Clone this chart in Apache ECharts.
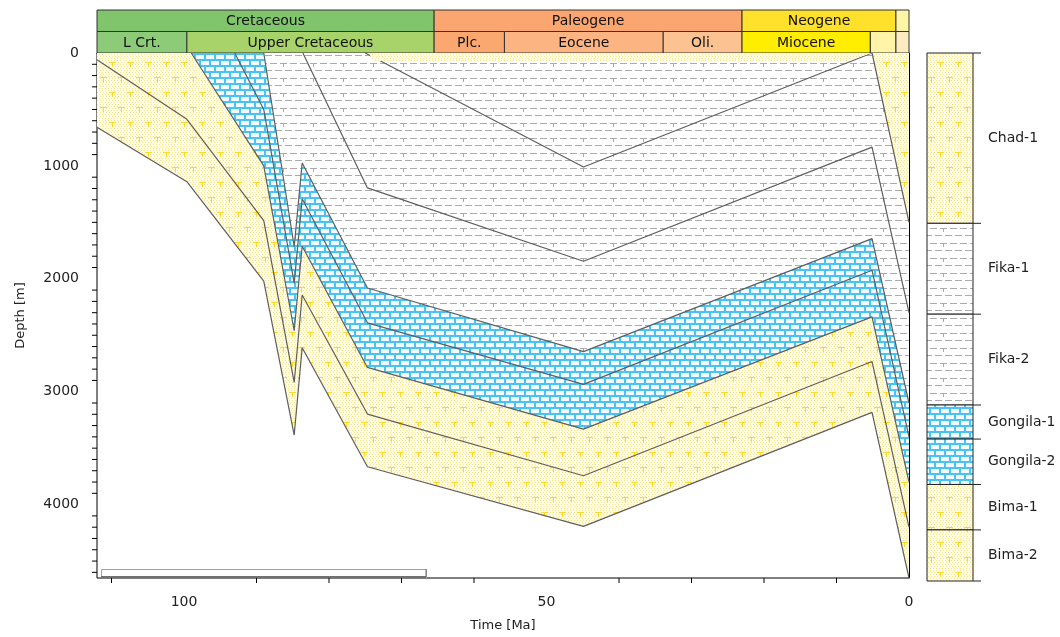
<!DOCTYPE html>
<html><head><meta charset="utf-8">
<script src="https://cdn.jsdelivr.net/npm/echarts@6/dist/echarts.min.js"></script>
<style>html,body{margin:0;padding:0;background:#fff}#c{width:1060px;height:637px}</style>
</head><body><div id="c"></div>
<script>
// ---------- DATA ----------
const AGE_MAX = 112;
const DEPTH_MAX = 4650;
const xMajorTicks = [0, 50, 100];
const xMinorTicks = [10, 20, 30, 40, 60, 70, 80, 90, 110];
const yMajorTicks = [0, 1000, 2000, 3000, 4000];
const yMinorTicks = [100,200,300,400,500,600,700,800,900,1100,1200,1300,1400,1500,1600,1700,1800,1900,
  2100,2200,2300,2400,2500,2600,2700,2800,2900,3100,3200,3300,3400,3500,3600,3700,3800,3900,4100,4200,4300,4400,4500,4600];

// horizons: [age Ma, depth m]
const baseBima2 = [[112,657],[99.6,1140],[89,2020],[84.8,3384],[83.7,2610],[74.7,3665],[44.9,4193],[5.1,3183],[0,4650]];
const topBima2  = [[112,59],[99.6,587],[89,1484],[84.8,2918],[83.7,2143],[74.7,3198],[44.9,3744],[5.1,2733],[0,4200]];
const topBima1  = [[99,0],[89,1000],[84.8,2460],[83.7,1712],[74.7,2785],[44.9,3331],[5.1,2337],[0,3800]];
const topGong2  = [[93,0],[89,500],[84.8,2038],[83.7,1291],[74.7,2390],[44.9,2935],[5.1,1924],[0,3400]];
const topGong1  = [[89,0],[84.8,1714],[83.7,974],[74.7,2081],[44.9,2645],[5.1,1644],[0,3100]];
const topFika2  = [[83.6,0],[74.7,1195],[44.9,1844],[5.1,834],[0,2300]];
const topFika1Eroded = [[75,0],[44.9,1010],[5.1,0]];
const erodedSandBase = [[74.6,0],[73.8,70],[8.5,70],[5.1,0]];
const topFika1Chad   = [[5.1,0],[0,1500]];

const horizonLines = [baseBima2, topBima2, topBima1, topGong2, topGong1, topFika2, topFika1Eroded, erodedSandBase, topFika1Chad];
const horizonFills = ['sand','sand','lime','lime','shale','shale','shale','sand','sand'];
const horizonDrawn = [true,true,true,true,true,true,true,false,true];

// lithology column
const lithoNames = ['Chad-1','Fika-1','Fika-2','Gongila-1','Gongila-2','Bima-1','Bima-2'];
const lithoTops  = [0,1500,2300,3100,3400,3800,4200];
const lithoBases = [1500,2300,3100,3400,3800,4200,4650];
const lithoTypes = ['sand','shale','shale','lime','lime','sand','sand'];

// time scale
const periodNames  = ['Cretaceous','Paleogene','Neogene',''];
const periodStarts = [145,65.5,23.03,1.8];
const periodEnds   = [65.5,23.03,1.8,0];
const periodColors = ['#80C46C','#FBA670','#FFE02A','#FFF5A6'];
const epochNames   = ['L Crt.','Upper Cretaceous','Plc.','Eocene','Oli.','Miocene','',''];
const epochStarts  = [145,99.6,65.5,55.8,33.9,23.03,5.33,1.8];
const epochEnds    = [99.6,65.5,55.8,33.9,23.03,5.33,1.8,0];
const epochColors  = ['#8ECB79','#A8D26A','#FBA870','#FCB582','#FDC292','#FFEE00','#FFF4A8','#FFEBC0'];

// ---------- PATTERNS ----------
function mk(w,h,fn){const c=document.createElement('canvas');c.width=w;c.height=h;fn(c.getContext('2d'));return c;}
const patterns = {
  sand: mk(18,30,g=>{
    g.fillStyle='#FFFCE8';g.fillRect(0,0,18,30);
    g.fillStyle='#FAE58E';
    for(let y=0;y<30;y+=2)for(let x=((y/2)%2)?1:0;x<18;x+=3)g.fillRect(x,y,1,1);
    g.fillStyle='#FFD82A';
    [[4,2],[13,17]].forEach(([x,y])=>{g.fillRect(x-3,y,7,1);g.fillRect(x,y,1,5);});
  }),
  shale: mk(30,15,g=>{
    g.fillStyle='#FFFFFF';g.fillRect(0,0,30,15);
    g.fillStyle='#ABABAB';
    g.fillRect(0,3,7,1);g.fillRect(20,3,7,1);
    g.fillRect(10,3,7,1);g.fillRect(13,3,1,4);
    g.fillRect(5,10,7,1);g.fillRect(15,10,7,1);g.fillRect(25,10,5,1);g.fillRect(0,10,2,1);
  }),
  lime: mk(20,12,g=>{
    g.fillStyle='#48C3F2';g.fillRect(0,0,20,12);
    g.fillStyle='#F2FBFF';
    g.fillRect(1,1,8,4);g.fillRect(11,1,8,4);
    g.fillRect(6,7,8,4);g.fillRect(16,7,4,4);g.fillRect(0,7,4,4);
  })
};
const pat = k => ({image: patterns[k], repeat: 'repeat'});

// ---------- CHART ----------
const FONT = 'DejaVu Sans';
const chart = echarts.init(document.getElementById('c'), null, {renderer:'canvas'});
const mainGrid = {left:97, right:151, top:53, bottom:56, show:true, borderColor:'#000', borderWidth:1, backgroundColor:'#fff'};

const series = horizonLines.map((d,i)=>({
  type:'line', xAxisIndex:0, yAxisIndex:0, data:d, symbol:'none', silent:true,
  lineStyle: horizonDrawn[i] ? {color:'#5E5E5E', width:1.2} : {color:'rgba(0,0,0,0)', width:1},
  areaStyle:{origin:'start', color: pat(horizonFills[i]), opacity:1},
  z: 2 + i*0.01, animation:false
}));

// minor ticks, placed through the main axes
series.push({
  type:'custom', xAxisIndex:0, yAxisIndex:0, silent:true, animation:false, clip:false, z:20,
  data: yMinorTicks.map(v=>[AGE_MAX, v, 0]).concat(xMinorTicks.map(v=>[v, DEPTH_MAX, 1])),
  renderItem(params, api){
    const p = api.coord([api.value(0), api.value(1)]);
    const isX = api.value(2) === 1;
    return {type:'line', shape: isX ? {x1:p[0], y1:p[1], x2:p[0], y2:p[1]+5} : {x1:p[0]-5, y1:p[1], x2:p[0], y2:p[1]},
      style:{stroke:'#000', lineWidth:1}};
  }
});

series.push({
  type:'custom', xAxisIndex:1, yAxisIndex:1, silent:true, animation:false, clip:false,
  data: periodNames.map((n,i)=>[i,0]).concat(epochNames.map((n,i)=>[i,1])),
  renderItem(params, api){
    const i = api.value(0), row = api.value(1);
    const s = row===0 ? periodStarts[i] : epochStarts[i];
    const e = row===0 ? periodEnds[i] : epochEnds[i];
    const name = row===0 ? periodNames[i] : epochNames[i];
    const col = row===0 ? periodColors[i] : epochColors[i];
    const p1 = api.coord([Math.min(s, AGE_MAX), row]);
    const p2 = api.coord([e, row+1]);
    return {type:'group', children:[
      {type:'rect', shape:{x:p1[0], y:p1[1], width:p2[0]-p1[0], height:p2[1]-p1[1]},
       style:{fill:col, stroke:'#333', lineWidth:1}},
      {type:'text', style:{text:name, x:(p1[0]+p2[0])/2, y:(p1[1]+p2[1])/2+1, align:'center', verticalAlign:'middle',
        font:'14px '+FONT, fill:'#111'}}
    ]};
  }
});

series.push({
  type:'custom', xAxisIndex:2, yAxisIndex:2, silent:true, animation:false, clip:false,
  data: lithoNames.map((n,i)=>[i]),
  renderItem(params, api){
    const i = api.value(0);
    const a = api.coord([0, lithoTops[i]]);
    const b = api.coord([1, lithoBases[i]]);
    const ch = [
      {type:'rect', shape:{x:a[0], y:a[1], width:b[0]-a[0], height:b[1]-a[1]},
       style:{fill: pat(lithoTypes[i]), stroke:'#222', lineWidth:1}},
      {type:'line', shape:{x1:b[0], y1:a[1], x2:b[0]+8, y2:a[1]}, style:{stroke:'#222', lineWidth:1}},
      {type:'text', style:{text:lithoNames[i], x:b[0]+15, y:(a[1]+b[1])/2, align:'left', verticalAlign:'middle',
        font:'14px '+FONT, fill:'#222'}}
    ];
    if (i === lithoNames.length-1) ch.push({type:'line', shape:{x1:b[0], y1:b[1], x2:b[0]+8, y2:b[1]}, style:{stroke:'#222', lineWidth:1}});
    return {type:'group', children: ch};
  }
});

const hiddenAxis = (o) => Object.assign({show:false}, o);
const plain = v => String(v);

chart.setOption({
  animation:false,
  grid:[mainGrid,
        {left:97, right:151, top:10, height:43},
        {left:927, right:87, top:53, bottom:56}],
  xAxis:[
    {type:'value', gridIndex:0, position:'bottom', min:0, max:AGE_MAX, inverse:true, interval:50,
     axisLine:{lineStyle:{color:'#000', width:1}},
     axisTick:{length:8, lineStyle:{color:'#000'}, customValues:xMajorTicks},
     axisLabel:{customValues:xMajorTicks, formatter:plain, margin:17, fontFamily:FONT, fontSize:14, color:'#222'},
     splitLine:{show:false},
     name:'Time [Ma]', nameLocation:'middle', nameGap:41, nameTextStyle:{fontFamily:FONT, fontSize:13, color:'#222'}},
    hiddenAxis({type:'value', gridIndex:1, min:0, max:AGE_MAX, inverse:true}),
    hiddenAxis({type:'value', gridIndex:2, min:0, max:1})
  ],
  yAxis:[
    {type:'value', gridIndex:0, position:'left', min:0, max:DEPTH_MAX, inverse:true, interval:1000,
     axisLine:{show:true, lineStyle:{color:'#000', width:1}},
     axisTick:{show:true, length:8, lineStyle:{color:'#000'}, customValues:yMajorTicks},
     axisLabel:{customValues:yMajorTicks, formatter:plain, margin:18, fontFamily:FONT, fontSize:14, color:'#222'},
     splitLine:{show:false},
     name:'Depth [m]', nameLocation:'middle', nameGap:70, nameTextStyle:{fontFamily:FONT, fontSize:13, color:'#222'}},
    hiddenAxis({type:'value', gridIndex:1, min:0, max:2, inverse:true}),
    hiddenAxis({type:'value', gridIndex:2, min:0, max:DEPTH_MAX, inverse:true})
  ],
  graphic:[
    {type:'rect', left:101, top:569, shape:{width:325, height:8}, style:{fill:'#fff', stroke:'#A0A0A0', lineWidth:1}, z:50},
    {type:'line', shape:{x1:101, y1:577, x2:426, y2:577}, style:{stroke:'#707070', lineWidth:2}, z:51},
    {type:'line', shape:{x1:426, y1:569, x2:426, y2:577}, style:{stroke:'#707070', lineWidth:1}, z:51}
  ],
  series
});
</script></body></html>
